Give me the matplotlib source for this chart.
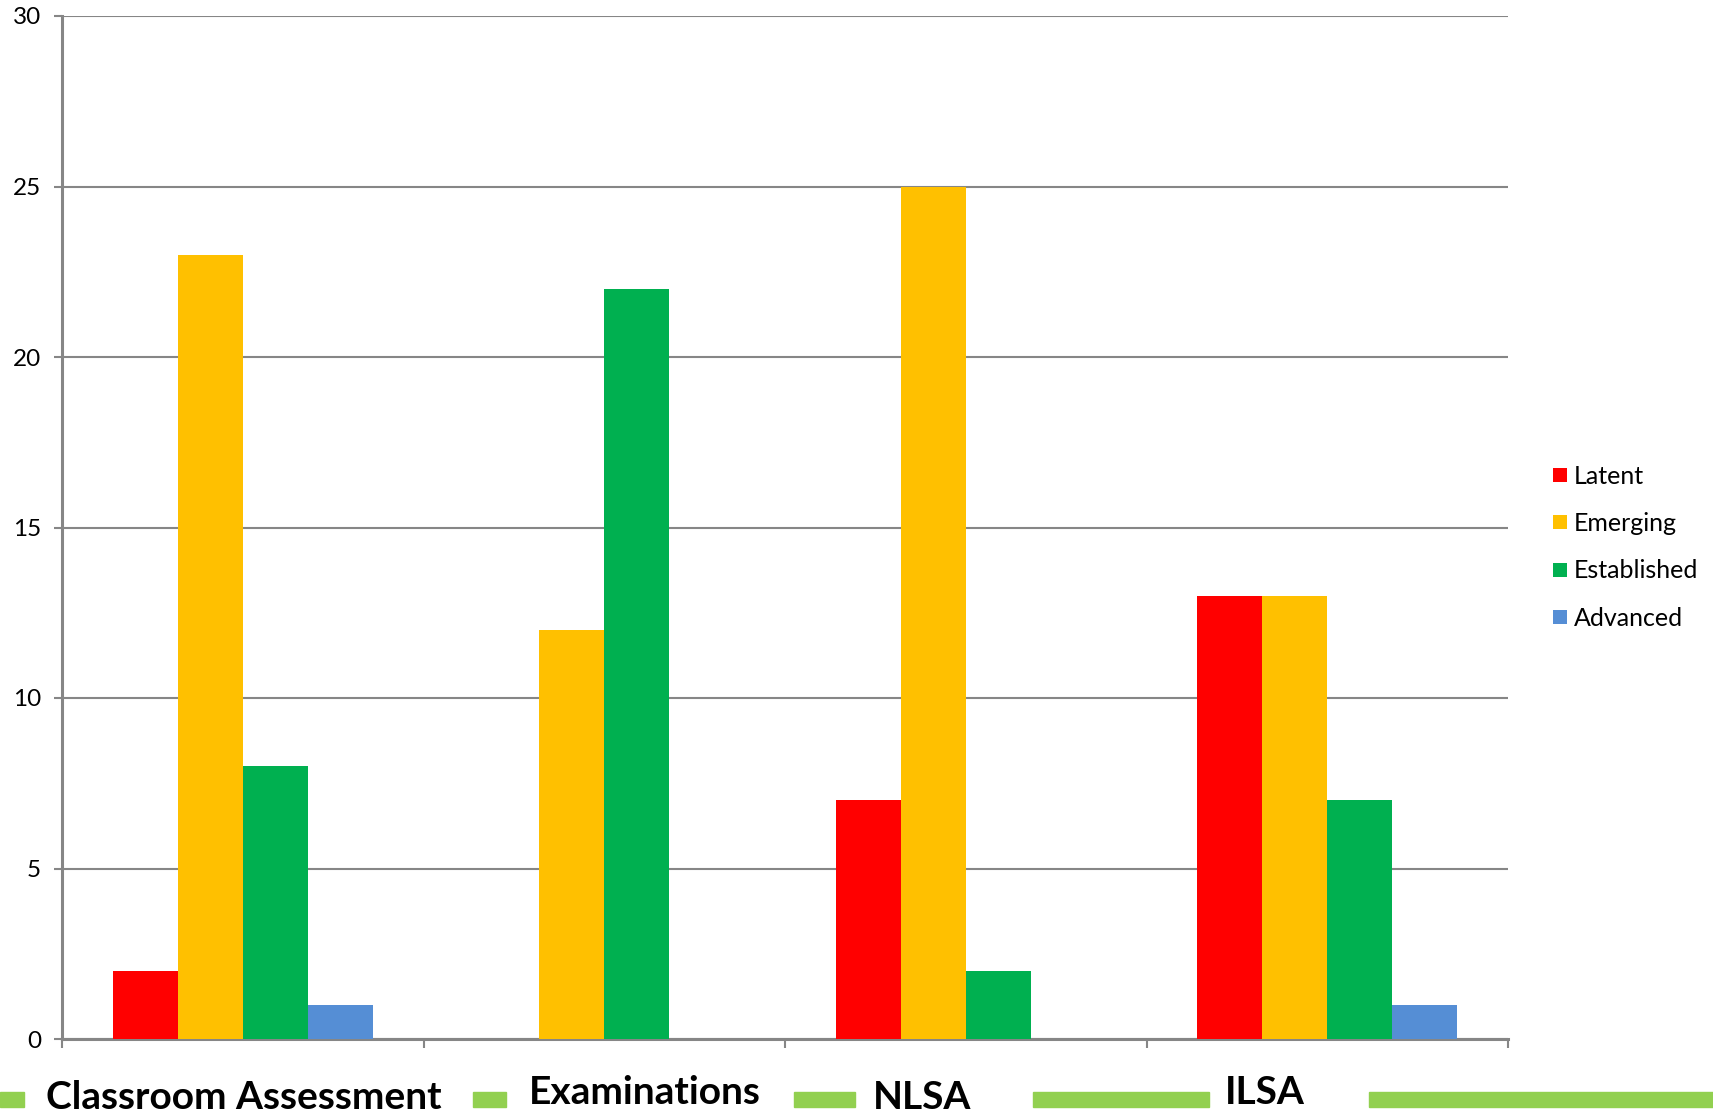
import numpy as np
import matplotlib
matplotlib.use('Agg')
import matplotlib.pyplot as plt
from matplotlib.patches import Rectangle
from matplotlib.lines import Line2D

# data
categories = ['Classroom Assessment', 'Examinations', 'NLSA', 'ILSA']
series = ['Latent', 'Emerging', 'Established', 'Advanced']
latent = [2, 0, 7, 13]
emerging = [23, 12, 25, 13]
established = [8, 22, 2, 7]
advanced = [1, 0, 0, 1]
colors = ['#FF0000', '#FFC000', '#00B050', '#558ED5']

W, H = 1713, 1113
plt.rcParams['font.family'] = ['Lato', 'DejaVu Sans']

fig = plt.figure(figsize=(W / 100, H / 100), dpi=100)
ax = fig.add_axes([62 / W, (H - 1039) / H, 1446 / W, 1023 / H])

x = np.arange(len(categories))
bw = 0.18
values = [latent, emerging, established, advanced]
for i, vals in enumerate(values):
    ax.bar(x + (i - 1.5) * bw, vals, bw, color=colors[i], zorder=3, linewidth=0)

gray = '#868686'
ax.set_xlim(-0.5, len(categories) - 0.5)
ax.set_ylim(0, 30)
ax.set_yticks(range(0, 31, 5))
ax.yaxis.grid(True, color=gray, linewidth=1.5, zorder=0)
ax.set_xticks(np.arange(-0.5, len(categories), 1.0))
ax.set_xticklabels([])
ax.tick_params(axis='y', length=6, width=1.5, color=gray, pad=9, labelsize=17.5)
ax.tick_params(axis='x', length=6.5, width=1.5, color=gray)
for s in ['top', 'right']:
    ax.spines[s].set_visible(False)
for s in ['left', 'bottom']:
    ax.spines[s].set_color(gray)
    ax.spines[s].set_linewidth(2.2)

# legend
handles = [Line2D([], [], marker='s', linestyle='none', markersize=10.5,
                  markerfacecolor=c, markeredgewidth=0) for c in colors]
fig.legend(handles, series, loc='upper left',
           bbox_to_anchor=(1538 / W, 1 - 452 / H), frameon=False,
           fontsize=18, handlelength=0.75, handletextpad=0.2,
           labelspacing=0.98, borderpad=0)

# green band behind the category labels
band = [(0, 24), (473, 506), (794, 855), (1033, 1209), (1369, 1713)]
for a, b in band:
    fig.patches.append(Rectangle((a / W, 1 - 1107 / H), (b - a) / W, 15 / H,
                                 transform=fig.transFigure, color='#92D050'))

label_x = [244, 645, 922, 1265]
label_base = [1109, 1104, 1109, 1104]
for name, lx, ly in zip(categories, label_x, label_base):
    fig.text(lx / W, 1 - ly / H, name, ha='center', va='baseline',
             fontsize=28, fontweight='bold')

fig.savefig('out.png', dpi=100)
